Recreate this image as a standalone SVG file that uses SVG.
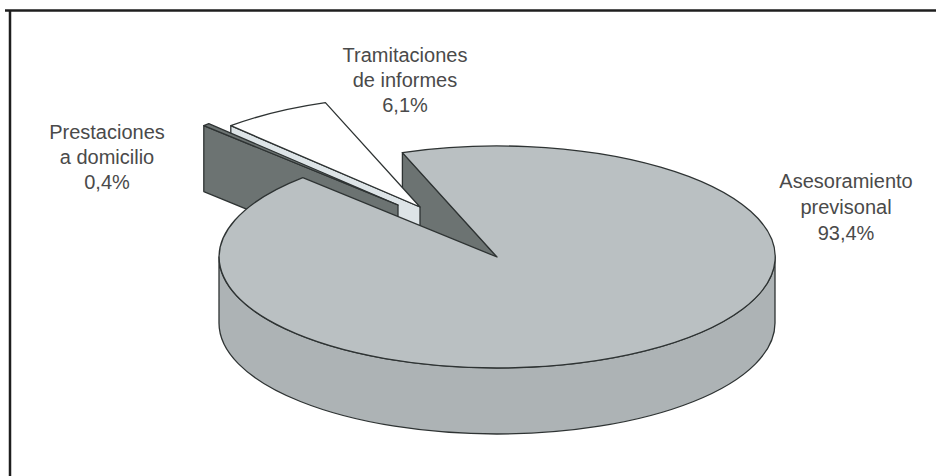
<svg xmlns="http://www.w3.org/2000/svg" width="936" height="476" viewBox="0 0 936 476">
<style>
.lbl{font-family:"Liberation Sans",Arial,sans-serif;font-size:20px;fill:#4a4a4a;text-anchor:middle}
.e{stroke:#2e3333;stroke-width:1.3;stroke-linejoin:round}
.top{fill:#bac0c2}
.side{fill:#adb3b5}
.dark{fill:#6c7372}
.pale{fill:#dde4e7}
.white{fill:#ffffff}
</style>
<rect width="936" height="476" fill="#ffffff"/>
<g id="frame">
<line x1="5" y1="10.5" x2="936" y2="10.5" stroke="#1e1e1e" stroke-width="2.5"/>
<line x1="10" y1="10" x2="10" y2="476" stroke="#1e1e1e" stroke-width="2.5"/>
</g>
<g id="asesoramiento-face">
<polygon class="dark e" points="497,257 402.4,152.6 402.4,218.6 497,323"/>
</g>
<g id="tramitaciones">
<polygon class="pale e" points="420,207 230.8,125.7 230.8,191.7 420,273"/>
<path class="white e" d="M420,207 L230.8,125.7 A278 111 0 0 1 325.4,102.6 Z"/>
</g>
<g id="prestaciones">
<polygon class="dark e" points="398,205 203.8,125.6 203.8,191.6 398,271"/>
<path class="dark e" d="M398,205 L203.8,125.6 A278 111 0 0 1 208.8,123.7 Z"/>
</g>
<g id="asesoramiento">
<path class="side e" d="M219,257 A278 111 0 0 0 775,257 L775,323 A278 111 0 0 1 219,323 Z"/>
<path class="top e" d="M497,257 L402.4,152.6 A278 111 0 1 1 302.8,177.6 Z"/>
</g>
<g id="labels">
<text class="lbl" x="405" y="62">Tramitaciones</text>
<text class="lbl" x="405" y="87">de informes</text>
<text class="lbl" x="405" y="112">6,1%</text>
<text class="lbl" x="107" y="139">Prestaciones</text>
<text class="lbl" x="107" y="164">a domicilio</text>
<text class="lbl" x="107" y="189">0,4%</text>
<text class="lbl" x="846" y="188">Asesoramiento</text>
<text class="lbl" x="846" y="214">previsonal</text>
<text class="lbl" x="846" y="240">93,4%</text>
</g>
</svg>
